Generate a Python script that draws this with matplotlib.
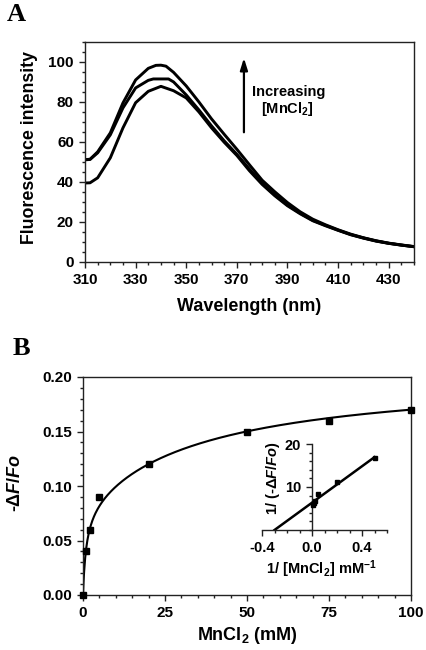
import numpy as np
import matplotlib
matplotlib.use("Agg")
import matplotlib.pyplot as plt
from matplotlib.ticker import MultipleLocator, FormatStrFormatter

# ---------------- data ----------------
# Panel A: fluorescence spectra (wavelength nm -> intensity)
wl_low = [310, 312, 315, 320, 325, 330, 335, 340, 345, 350, 355, 360, 365, 370,
          375, 380, 385, 390, 395, 400, 405, 410, 415, 420, 425, 430, 435, 440]
int_low = [39.4, 39.5, 42.0, 52.0, 67.0, 79.6, 85.3, 87.8, 85.6, 82.0, 75.0, 67.0, 59.8, 53.2,
           45.5, 38.7, 33.0, 28.0, 24.0, 20.5, 18.0, 15.7, 13.5, 11.8, 10.3, 9.2, 8.3, 7.5]

wl_mid = [310, 312, 315, 320, 325, 330, 335, 337, 340, 343, 345, 350, 355, 360, 365, 370,
          375, 380, 385, 390, 395, 400, 405, 410, 415, 420, 425, 430, 435, 440]
int_mid = [51.0, 51.2, 54.5, 63.5, 77.0, 87.0, 90.8, 91.5, 91.5, 91.5, 90.0, 83.5, 76.0, 68.0, 60.5, 53.8,
           46.3, 39.2, 33.4, 28.4, 24.3, 20.7, 18.2, 15.8, 13.6, 11.9, 10.4, 9.2, 8.3, 7.5]

wl_high = [310, 312, 315, 320, 325, 330, 335, 338, 340, 342, 345, 350, 355, 360, 365, 370,
           375, 380, 385, 390, 395, 400, 405, 410, 415, 420, 425, 430, 435, 440]
int_high = [51.1, 51.3, 55.0, 64.5, 79.5, 91.0, 96.8, 98.3, 98.4, 97.9, 94.8, 88.0, 80.0, 71.5, 63.8, 56.3,
            48.5, 40.8, 35.0, 29.6, 25.0, 21.3, 18.5, 16.0, 13.8, 12.0, 10.5, 9.3, 8.4, 7.6]

# Panel B: titration
mncl2_mM = [0, 1, 2, 5, 20, 50, 75, 100]
dF_Fo = [0.0, 0.04, 0.06, 0.09, 0.12, 0.15, 0.16, 0.17]

# fitted two-site binding curve parameters
fit_B1, fit_K1 = 0.08, 1.0
fit_B2, fit_K2 = 0.124, 36.5

# tick labels
a_xticks = [310, 330, 350, 370, 390, 410, 430]
a_yticks = [0, 20, 40, 60, 80, 100]
b_xticks = [0, 25, 50, 75, 100]
b_yticks = [0.00, 0.05, 0.10, 0.15, 0.20]
in_xticks = [-0.4, 0.0, 0.4]
in_yticks = [10, 20]

# ---------------- style ----------------
plt.rcParams['font.family'] = ['Liberation Sans', 'DejaVu Sans']
plt.rcParams['font.weight'] = 'bold'
plt.rcParams['axes.unicode_minus'] = False
plt.rcParams['mathtext.fontset'] = 'custom'
plt.rcParams['mathtext.rm'] = 'Liberation Sans:bold'
plt.rcParams['mathtext.bf'] = 'Liberation Sans:bold'
plt.rcParams['mathtext.it'] = 'Liberation Sans:italic:bold'
plt.rcParams['mathtext.default'] = 'rm'

fig = plt.figure(figsize=(4.26, 6.5), dpi=100)
W, H = 426.0, 650.0


def style_axes(ax, size=11):
    for s in ax.spines.values():
        s.set_linewidth(1.0)
        s.set_color('#222222')
    ax.tick_params(which='both', direction='out', width=1.0, colors='#222222',
                   labelcolor='black', labelsize=size)
    ax.tick_params(which='major', length=4.5, pad=3.5)
    ax.tick_params(which='minor', length=2.5)
    for lab in ax.get_xticklabels() + ax.get_yticklabels():
        lab.set_fontweight('bold')


# ---------------- Panel A ----------------
axA = fig.add_axes([85 / W, 1 - 261.7 / H, 329 / W, 219.7 / H])
for wl, iv in [(wl_low, int_low), (wl_mid, int_mid), (wl_high, int_high)]:
    axA.plot(wl, iv, color='black', lw=2.1, solid_joinstyle='round', solid_capstyle='round')
axA.set_xlim(310, 440)
axA.set_ylim(0, 110)
axA.set_xticks(a_xticks)
axA.set_yticks(a_yticks)
axA.xaxis.set_minor_locator(MultipleLocator(5))
axA.yaxis.set_minor_locator(MultipleLocator(5))
style_axes(axA)
axA.annotate('', xy=(372.8, 102), xytext=(372.8, 64.8),
             arrowprops=dict(arrowstyle='-|>,head_width=0.22,head_length=0.7',
                             color='black', lw=1.6, shrinkA=0, shrinkB=0))
axA.text(390.5, 85.0, 'Increasing', ha='center', va='center', fontsize=10.5, fontweight='bold')
axA.text(390, 76.5, '[MnCl$_2$]', ha='center', va='center', fontsize=10.5, fontweight='bold')

fig.text(30 / W, 1 - 148 / H, 'Fluorescence intensity', rotation=90, ha='center', va='center',
         fontsize=12.8, fontweight='bold')
fig.text(249 / W, 1 - 306 / H, 'Wavelength (nm)', ha='center', va='center',
         fontsize=13, fontweight='bold')

# ---------------- Panel B ----------------
axB = fig.add_axes([83 / W, 1 - 595 / H, 328 / W, 218 / H])
xs = np.linspace(0, 100, 600)
fit_curve = fit_B1 * xs / (fit_K1 + xs) + fit_B2 * xs / (fit_K2 + xs)
axB.plot(xs, fit_curve, color='black', lw=1.5)
axB.plot(mncl2_mM, dF_Fo, 's', color='black', ms=4.8, clip_on=False, zorder=5)
axB.set_xlim(0, 100)
axB.set_ylim(0, 0.20)
axB.set_xticks(b_xticks)
axB.set_yticks(b_yticks)
axB.yaxis.set_major_formatter(FormatStrFormatter('%.2f'))
axB.xaxis.set_minor_locator(MultipleLocator(5))
axB.yaxis.set_minor_locator(MultipleLocator(0.01))
style_axes(axB)

fig.text(15 / W, 1 - 483 / H, r'-Δ$\mathit{F/Fo}$', rotation=90, ha='center', va='center',
         fontsize=13, fontweight='bold')
fig.text(247 / W, 1 - 635 / H, 'MnCl$_2$ (mM)', ha='center', va='center',
         fontsize=13, fontweight='bold')

# ---------------- Inset (double reciprocal) ----------------
inv_x = [1.0 / c for c in mncl2_mM if c > 0]
inv_y = [1.0 / v for c, v in zip(mncl2_mM, dF_Fo) if c > 0]
slope, intercept = np.polyfit(inv_x[1:], inv_y[1:], 1)

axI = fig.add_axes([262 / W, 1 - 530 / H, 125 / W, 86 / H])
axI.patch.set_alpha(0)
lx = np.array([-intercept / slope, 0.5])
axI.plot(lx, slope * lx + intercept, color='black', lw=1.8)
axI.plot(inv_x, inv_y, 's', color='black', ms=3.2, zorder=5)
axI.set_xlim(-0.4, 0.6)
axI.set_ylim(0, 20)
axI.spines['left'].set_position(('data', 0))
axI.spines['top'].set_visible(False)
axI.spines['right'].set_visible(False)
axI.set_xticks(in_xticks)
axI.set_xticklabels(['-0.4', '0.0', '0.4'])
axI.set_yticks(in_yticks)
axI.xaxis.set_minor_locator(MultipleLocator(0.1))
axI.yaxis.set_minor_locator(MultipleLocator(2))
style_axes(axI, size=10.5)

fig.text(273 / W, 1 - 478 / H, r'1/ (-Δ$\mathit{F/Fo}$)', rotation=90, ha='center', va='center',
         fontsize=10.5, fontweight='bold')
fig.text(321 / W, 1 - 569 / H, r'1/ [MnCl$_2$] mM$^{-1}$', ha='center', va='center',
         fontsize=10.5, fontweight='bold')

# ---------------- panel letters ----------------
fig.text(7 / W, 1 - 21 / H, 'A', family='Liberation Serif', fontweight='bold', fontsize=19,
         ha='left', va='baseline')
fig.text(13 / W, 1 - 355 / H, 'B', family='Liberation Serif', fontweight='bold', fontsize=19,
         ha='left', va='baseline')

fig.savefig('out.png', dpi=100)
